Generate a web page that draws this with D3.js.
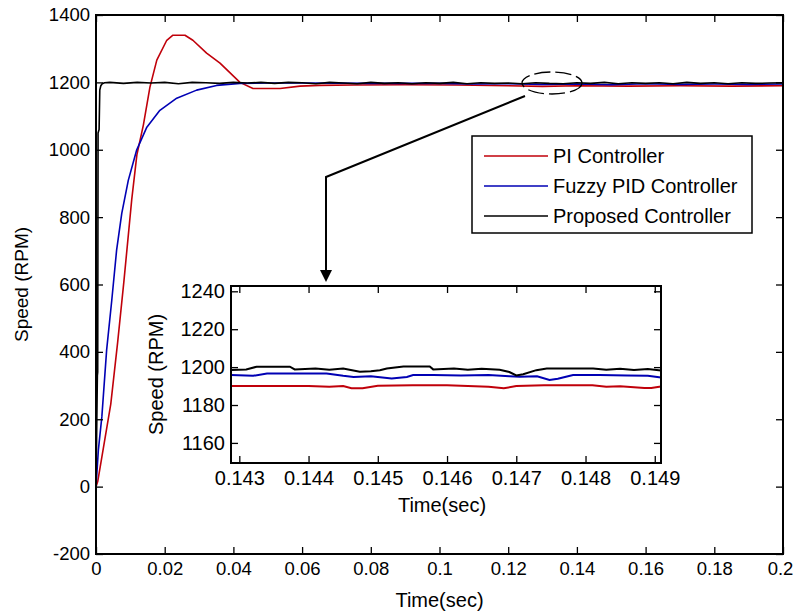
<!DOCTYPE html>
<html>
<head>
<meta charset="utf-8">
<script src="https://cdn.jsdelivr.net/npm/d3@7"></script>
<style>
  body { margin: 0; background: #fff; }
  svg { font-family: "Liberation Sans", Arial, sans-serif; }
  .axis path { display: none; }
  .axis line { stroke: #000; stroke-width: 1.3; }
  .axis text { fill: #000; }
</style>
</head>
<body>
<div id="chart"></div>
<script>
// ---- main plot data ----
const seriesNames = ["PI Controller", "Fuzzy PID Controller", "Proposed Controller"];
const seriesColors = ["#c0000a", "#0000b4", "#000000"];

const piTime  = [0, 0.0005, 0.0043, 0.0063, 0.0081, 0.0104, 0.0119, 0.0138, 0.0157, 0.0177, 0.0206, 0.0224, 0.0259, 0.0282, 0.0322, 0.0361, 0.0419, 0.0457, 0.0536, 0.0594, 0.065, 0.075, 0.09, 0.105, 0.12, 0.13, 0.14, 0.155, 0.17, 0.185, 0.2];
const piSpeed = [0, 15, 245, 428, 607, 852, 985, 1074, 1186, 1266, 1325, 1340, 1340, 1325, 1287, 1257, 1200, 1182, 1182, 1189, 1191, 1192, 1193, 1192, 1190, 1188, 1190, 1189, 1190, 1189, 1190];

const fuzzyTime  = [0, 0.0007, 0.0017, 0.0031, 0.0046, 0.006, 0.0075, 0.0094, 0.0118, 0.0148, 0.0186, 0.0235, 0.0293, 0.0351, 0.0419, 0.05, 0.06, 0.08, 0.1, 0.11, 0.12, 0.13, 0.14, 0.15, 0.16, 0.17, 0.18, 0.19, 0.2];
const fuzzySpeed = [0, 110, 207, 406, 554, 702, 811, 909, 998, 1067, 1117, 1153, 1177, 1191, 1197, 1198, 1198, 1197, 1197, 1195, 1196, 1194, 1195, 1193, 1196, 1194, 1195, 1194, 1195];

const propTime  = [0, 0.0004, 0.0005, 0.0006, 0.0009, 0.0011, 0.0014, 0.0018, 0.0025,
  0.004, 0.008, 0.012, 0.016, 0.02, 0.024, 0.028, 0.032, 0.036, 0.04, 0.044, 0.048, 0.052,
  0.056, 0.06, 0.064, 0.068, 0.072, 0.076, 0.08, 0.084, 0.088, 0.092, 0.096, 0.1, 0.104,
  0.108, 0.112, 0.116, 0.12, 0.124, 0.128, 0.132, 0.136, 0.14, 0.144, 0.148, 0.152, 0.156,
  0.16, 0.164, 0.168, 0.172, 0.176, 0.18, 0.184, 0.188, 0.192, 0.196, 0.2];
const propSpeed = [0, 330, 340, 1050, 1060, 1177, 1190, 1196, 1199,
  1200, 1197, 1200, 1198, 1200, 1196, 1200, 1199, 1197, 1200, 1198, 1200, 1197,
  1200, 1199, 1196, 1200, 1198, 1196, 1200, 1197, 1199, 1196, 1199, 1197, 1200,
  1196, 1199, 1197, 1198, 1196, 1199, 1197, 1196, 1199, 1197, 1200, 1196, 1199,
  1197, 1199, 1196, 1200, 1197, 1199, 1196, 1199, 1197, 1198, 1199];

const xTicks = [0, 0.02, 0.04, 0.06, 0.08, 0.1, 0.12, 0.14, 0.16, 0.18, 0.2];
const xTickLabels = ["0", "0.02", "0.04", "0.06", "0.08", "0.1", "0.12", "0.14", "0.16", "0.18", "0.2"];
const yTicks = [-200, 0, 200, 400, 600, 800, 1000, 1200, 1400];
const yTickLabels = ["-200", "0", "200", "400", "600", "800", "1000", "1200", "1400"];

// ---- inset (zoomed) data ----
const insetPiTime  = [0.14288, 0.1435, 0.144, 0.1443, 0.1445, 0.14462, 0.14478, 0.145, 0.1455, 0.146, 0.1463, 0.1466, 0.14682, 0.147, 0.1474, 0.1478, 0.1481, 0.1483, 0.1485, 0.14885, 0.14895, 0.14909];
const insetPiSpeed = [1190.0, 1190.0, 1190.0, 1189.6, 1190.0, 1188.9, 1188.9, 1190.2, 1190.4, 1190.4, 1190.0, 1189.6, 1188.8, 1190.0, 1190.4, 1190.4, 1190.4, 1189.6, 1189.9, 1189.0, 1189.0, 1189.8];

const insetFuzzyTime  = [0.14288, 0.1432, 0.1434, 0.14426, 0.1445, 0.14465, 0.1449, 0.1452, 0.14542, 0.14551, 0.1458, 0.1462, 0.1466, 0.1469, 0.14705, 0.1473, 0.14748, 0.1476, 0.14782, 0.1482, 0.1486, 0.1489, 0.14909];
const insetFuzzySpeed = [1195.8, 1195.4, 1196.6, 1196.6, 1195.4, 1194.8, 1195.2, 1194.0, 1194.8, 1195.8, 1195.8, 1195.6, 1195.8, 1195.2, 1194.9, 1195.2, 1193.2, 1193.9, 1195.8, 1195.8, 1195.6, 1195.4, 1194.5];

const insetPropTime  = [0.14288, 0.1431, 0.14325, 0.14373, 0.1438, 0.1441, 0.1443, 0.1445, 0.14474, 0.1449, 0.14503, 0.14513, 0.14537, 0.14575, 0.1458, 0.1461, 0.1463, 0.1465, 0.14676, 0.1469, 0.147, 0.1471, 0.14729, 0.14744, 0.1477, 0.1479, 0.14811, 0.1483, 0.1485, 0.1487, 0.1489, 0.14909];
const insetPropSpeed = [1198.5, 1198.8, 1200.2, 1200.2, 1198.8, 1199.2, 1198.6, 1199.2, 1197.6, 1197.8, 1198.4, 1199.3, 1200.3, 1200.3, 1198.8, 1199.2, 1198.6, 1199.1, 1198.6, 1197.4, 1195.6, 1196.2, 1198.4, 1199.3, 1199.3, 1199.3, 1199.3, 1198.6, 1199.1, 1198.5, 1199.0, 1198.2];

const insetXTicks = [0.143, 0.144, 0.145, 0.146, 0.147, 0.148, 0.149];
const insetXTickLabels = ["0.143", "0.144", "0.145", "0.146", "0.147", "0.148", "0.149"];
const insetYTicks = [1160, 1180, 1200, 1220, 1240];
const insetYTickLabels = ["1160", "1180", "1200", "1220", "1240"];

const width = 795, height = 614;
const svg = d3.select("#chart").append("svg")
    .attr("width", width)
    .attr("height", height);

const zip = (t, v) => t.map((d, i) => ({t: d, v: v[i]}));

function drawAxesBox(g, x, y, xt, xl, yt, yl, fs) {
    const [x0, x1] = x.range();
    const [y0, y1] = y.range();
    const bottom = g.append("g").attr("class", "axis")
        .attr("transform", `translate(0,${y0})`)
        .call(d3.axisBottom(x).tickValues(xt).tickFormat((d, i) => xl[i]).tickSizeInner(-7).tickSizeOuter(0).tickPadding(8));
    bottom.selectAll("text").style("font-size", fs + "px");
    g.append("g").attr("class", "axis")
        .attr("transform", `translate(0,${y1})`)
        .call(d3.axisTop(x).tickValues(xt).tickFormat("").tickSizeInner(-7).tickSizeOuter(0));
    g.append("g").attr("class", "axis")
        .attr("transform", `translate(${x0},0)`)
        .call(d3.axisLeft(y).tickValues(yt).tickFormat((d, i) => yl[i]).tickSizeInner(-7).tickSizeOuter(0).tickPadding(6))
        .selectAll("text").style("font-size", fs + "px");
    g.append("g").attr("class", "axis")
        .attr("transform", `translate(${x1},0)`)
        .call(d3.axisRight(y).tickValues(yt).tickFormat("").tickSizeInner(-7).tickSizeOuter(0));
    g.append("rect")
        .attr("x", x0).attr("y", y1)
        .attr("width", x1 - x0).attr("height", y0 - y1)
        .attr("fill", "none").attr("stroke", "#000").attr("stroke-width", 2);
    return bottom;
}

// ---- main plot ----
const x = d3.scaleLinear().domain([0, 0.2]).range([96, 783]);
const y = d3.scaleLinear().domain([-200, 1400]).range([554, 15]);

const line = d3.line().x(d => x(d.t)).y(d => y(d.v));

const mainSeries = [zip(piTime, piSpeed), zip(fuzzyTime, fuzzySpeed), zip(propTime, propSpeed)];
mainSeries.forEach((s, i) => {
    svg.append("path")
        .datum(s)
        .attr("fill", "none")
        .attr("stroke", seriesColors[i])
        .attr("stroke-width", 1.6)
        .attr("stroke-linejoin", "round")
        .attr("d", line);
});

const mainBottom = drawAxesBox(svg, x, y, xTicks, xTickLabels, yTicks, yTickLabels, 18.5);
// last label sits on the page edge, keep it inside
mainBottom.selectAll(".tick").filter(d => d === 0.2).select("text").attr("dx", "-3");

svg.append("text")
    .attr("x", (x.range()[0] + x.range()[1]) / 2)
    .attr("y", 607)
    .attr("text-anchor", "middle")
    .style("font-size", "20px")
    .text("Time(sec)");

svg.append("text")
    .attr("transform", `translate(28,${(y.range()[0] + y.range()[1]) / 2}) rotate(-90)`)
    .attr("text-anchor", "middle")
    .style("font-size", "19px")
    .text("Speed (RPM)");

// ---- legend ----
const legend = svg.append("g");
legend.append("rect")
    .attr("x", 472).attr("y", 136)
    .attr("width", 280).attr("height", 97)
    .attr("fill", "#fff").attr("stroke", "#000").attr("stroke-width", 1.5);
seriesNames.forEach((name, i) => {
    const ly = 156 + i * 30;
    legend.append("line")
        .attr("x1", 484).attr("x2", 548)
        .attr("y1", ly).attr("y2", ly)
        .attr("stroke", seriesColors[i]).attr("stroke-width", 1.6);
    legend.append("text")
        .attr("x", 553).attr("y", ly)
        .attr("dy", "0.35em")
        .style("font-size", "20px")
        .text(name);
});

// ---- zoom marker + arrow ----
svg.append("ellipse")
    .attr("cx", 552).attr("cy", 83)
    .attr("rx", 30).attr("ry", 11)
    .attr("fill", "none").attr("stroke", "#000")
    .attr("stroke-width", 1.3)
    .attr("stroke-dasharray", "16,5");

svg.append("polyline")
    .attr("points", "525,96 326,177 326,272")
    .attr("fill", "none").attr("stroke", "#000").attr("stroke-width", 2);
svg.append("path")
    .attr("d", "M320,270 L332,270 L326,282 Z")
    .attr("fill", "#000");

// ---- inset ----
const ix = d3.scaleLinear().domain([0.14288, 0.14909]).range([231, 661]);
const iy = d3.scaleLinear().domain([1149.4, 1242.8]).range([463, 286]);

const inset = svg.append("g");
inset.append("rect")
    .attr("x", 231).attr("y", 286)
    .attr("width", 430).attr("height", 177)
    .attr("fill", "#fff");

const iline = d3.line().x(d => ix(d.t)).y(d => iy(d.v));
const insetSeries = [zip(insetPiTime, insetPiSpeed), zip(insetFuzzyTime, insetFuzzySpeed), zip(insetPropTime, insetPropSpeed)];
insetSeries.forEach((s, i) => {
    inset.append("path")
        .datum(s)
        .attr("fill", "none")
        .attr("stroke", seriesColors[i])
        .attr("stroke-width", 2)
        .attr("d", iline);
});

drawAxesBox(inset, ix, iy, insetXTicks, insetXTickLabels, insetYTicks, insetYTickLabels, 20);

inset.append("text")
    .attr("x", 442).attr("y", 512)
    .attr("text-anchor", "middle")
    .style("font-size", "20px")
    .text("Time(sec)");

inset.append("text")
    .attr("transform", `translate(163,${(286 + 463) / 2}) rotate(-90)`)
    .attr("text-anchor", "middle")
    .style("font-size", "20px")
    .text("Speed (RPM)");
</script>
</body>
</html>
